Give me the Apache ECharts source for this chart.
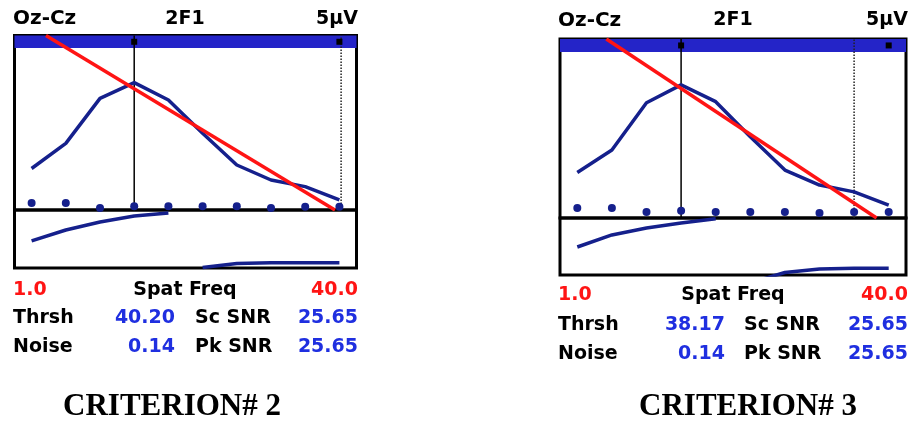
<!DOCTYPE html>
<html><head><meta charset="utf-8">
<script src="https://cdn.jsdelivr.net/npm/echarts@6/dist/echarts.min.js"></script>
<style>html,body{margin:0;padding:0;background:#fff}#c{width:916px;height:423px}</style>
</head><body><div id="c"></div>
<script>
// x positions of the 10 spatial-frequency samples
const harmonics = [0, 1, 2, 3, 4, 5, 6, 7, 8, 9];

// ---- CRITERION# 2 (left panel) ----
const amp2    = [1.19, 1.91, 3.20, 3.65, 3.15, 2.20, 1.29, 0.86, 0.67, 0.29];
const noise2  = [0.20, 0.20, 0.06, 0.11, 0.11, 0.11, 0.11, 0.06, 0.09, 0.09];
const fit2    = [[0.42, 5], [8.87, 0]];
const phaseA2 = [168, 236, 286, 323, 341, '-', '-', '-', '-', '-'];
const phaseB2 = ['-', '-', '-', '-', '-', 3, 28, 33, 33, 33];
const peak2 = 3, cut2 = 9.05;
const stats2 = { lo: '1.0', hi: '40.0', thrsh: '40.20', noise: '0.14', sc: '25.65', pk: '25.65', title: 'CRITERION# 2' };

// ---- CRITERION# 3 (right panel) ----
const amp3    = [1.27, 1.90, 3.22, 3.72, 3.25, 2.27, 1.34, 0.92, 0.73, 0.36];
const noise3  = [0.28, 0.28, 0.17, 0.20, 0.17, 0.17, 0.17, 0.14, 0.17, 0.17];
const fit3    = [[0.84, 5], [8.65, 0]];
const phaseA3 = [177, 253, 297, 328, 355, '-', '-', '-', '-', '-'];
const phaseB3 = ['-', '-', '-', '-', '-', -50, 16, 38, 42, 42];
const peak3 = 3, cut3 = 8.0;
const stats3 = { lo: '1.0', hi: '40.0', thrsh: '38.17', noise: '0.14', sc: '25.65', pk: '25.65', title: 'CRITERION# 3' };

const headers = ['Oz-Cz', '2F1', '5\u00b5V'];

const NAVY = '#15208c', RED = '#ff1414', BLUE = '#1f2fe0', BAND = '#2424c8';
const pts = (arr) => harmonics.map((h, i) => [h, arr[i]]).filter(p => p[1] !== '-');

const panels = [
  { amp: amp2, noise: noise2, fit: fit2, pa: phaseA2, pb: phaseB2, peak: peak2, cut: cut2, s: stats2,
    L: 14.5, W: 342, T: 35.5, H: 174.5, LH: 58,
    txt: { top: 19, r1: 290, r2: 318, r3: 347.5, ttl: 407, left: 13, right: 358, valR: 175, lab2: 195, center: 185, ttlX: 172 } },
  { amp: amp3, noise: noise3, fit: fit3, pa: phaseA3, pb: phaseB3, peak: peak3, cut: cut3, s: stats3,
    L: 560, W: 346, T: 39, H: 179, LH: 57,
    txt: { top: 20.5, r1: 295, r2: 325, r3: 354.5, ttl: 407, left: 558, right: 908, valR: 725, lab2: 744, center: 733, ttlX: 748 } }
];

const grid = [], xAxis = [], yAxis = [], series = [], graphic = [];
panels.forEach((p, k) => {
  const gu = grid.length;
  grid.push({ left: p.L, top: p.T, width: p.W, height: p.H, show: true, borderColor: '#000', borderWidth: 3, backgroundColor: 'transparent' });
  grid.push({ left: p.L, top: p.T + p.H, width: p.W, height: p.LH, show: true, borderColor: '#000', borderWidth: 3, backgroundColor: 'transparent' });
  [0, 1].forEach(j => {
    xAxis.push({ type: 'value', gridIndex: gu + j, min: -0.5, max: 9.5, show: false });
  });
  yAxis.push({ type: 'value', gridIndex: gu, min: 0, max: 5, show: false });
  yAxis.push({ type: 'value', gridIndex: gu + 1, min: 0, max: 360, show: false });

  // top band + vertical marker lines
  series.push({ type: 'line', xAxisIndex: gu, yAxisIndex: gu, data: [[p.peak, 0], [p.peak, 5]], showSymbol: false,
    lineStyle: { color: '#000', width: 1.5 }, z: 3,
    markArea: { silent: true, itemStyle: { color: BAND }, data: [[{ yAxis: 4.64 }, { yAxis: 5 }]] } });
  series.push({ type: 'line', xAxisIndex: gu, yAxisIndex: gu, data: [[p.cut, 0], [p.cut, 5]], showSymbol: false,
    lineStyle: { color: '#222', width: 1.5, type: 'dotted' }, z: 3 });
  series.push({ type: 'scatter', xAxisIndex: gu, yAxisIndex: gu, data: [[p.peak, 4.82], [9, 4.82]], symbol: 'rect', symbolSize: 6,
    itemStyle: { color: '#000', opacity: 1 }, z: 4 });
  // amplitude curve
  series.push({ type: 'line', xAxisIndex: gu, yAxisIndex: gu, data: pts(p.amp), showSymbol: false,
    lineStyle: { color: NAVY, width: 3.5 }, z: 5 });
  // noise dots
  series.push({ type: 'scatter', xAxisIndex: gu, yAxisIndex: gu, data: pts(p.noise), symbol: 'circle', symbolSize: 8,
    itemStyle: { color: NAVY, opacity: 1 }, z: 5 });
  // regression line
  series.push({ type: 'line', xAxisIndex: gu, yAxisIndex: gu, data: p.fit, showSymbol: false,
    lineStyle: { color: RED, width: 3.5 }, z: 6 });
  // phase curves
  series.push({ type: 'line', xAxisIndex: gu + 1, yAxisIndex: gu + 1, data: pts(p.pa), showSymbol: false,
    lineStyle: { color: NAVY, width: 3.5 }, z: 5 });
  series.push({ type: 'line', xAxisIndex: gu + 1, yAxisIndex: gu + 1, data: pts(p.pb), showSymbol: false,
    lineStyle: { color: NAVY, width: 3.5 }, z: 5 });

  const t = p.txt;
  const F = 'bold 19px "DejaVu Sans"';
  const add = (text, x, y, align, fill, font) => graphic.push({ type: 'text', style: { text, x, y, textAlign: align, textVerticalAlign: 'middle', fill: fill || '#000', font: font || F } });
  add(headers[0], t.left, t.top, 'left', '#000', 'bold 20px "DejaVu Sans"');
  add(headers[1], t.center, t.top, 'center');
  add(headers[2], t.right, t.top, 'right');
  add(p.s.lo, t.left, t.r1, 'left', RED);
  add('Spat Freq', t.center, t.r1, 'center');
  add(p.s.hi, t.right, t.r1, 'right', RED);
  add('Thrsh', t.left, t.r2, 'left');
  add(p.s.thrsh, t.valR, t.r2, 'right', BLUE);
  add('Sc SNR', t.lab2, t.r2, 'left');
  add(p.s.sc, t.right, t.r2, 'right', BLUE);
  add('Noise', t.left, t.r3, 'left');
  add(p.s.noise, t.valR, t.r3, 'right', BLUE);
  add('Pk SNR', t.lab2, t.r3, 'left');
  add(p.s.pk, t.right, t.r3, 'right', BLUE);
  add(p.s.title, t.ttlX, t.ttl, 'center', '#000', 'bold 31px "Liberation Serif"');
});

const chart = echarts.init(document.getElementById('c'), null, { renderer: 'canvas' });
chart.setOption({ animation: false, backgroundColor: '#fff', grid, xAxis, yAxis, series, graphic });
</script>
</body></html>
